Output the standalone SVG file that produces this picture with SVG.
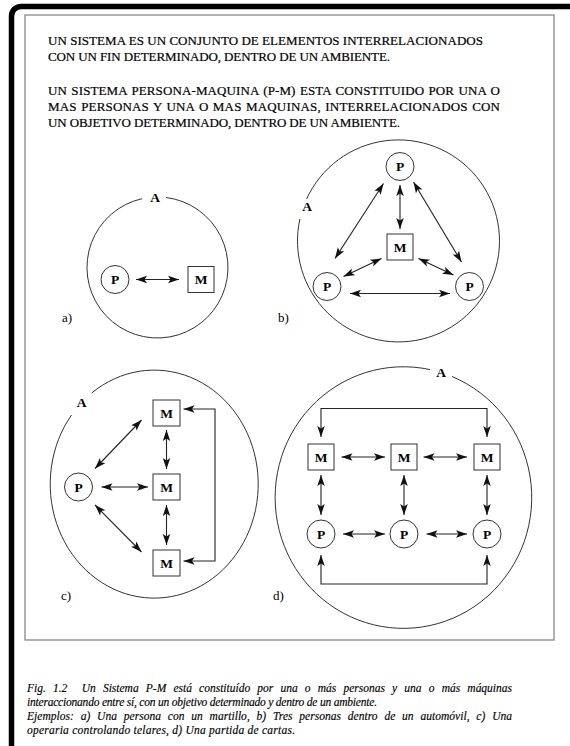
<svg xmlns="http://www.w3.org/2000/svg" width="570" height="746" viewBox="0 0 570 746">
<defs>
<style>
.hdr{font-family:"Liberation Serif","Times New Roman",serif;font-size:13px;fill:#000;stroke:#000;stroke-width:0.2}
.cap{font-family:"Liberation Serif","Times New Roman",serif;font-size:11.5px;font-style:italic;fill:#000;stroke:#000;stroke-width:0.15}
.lbl{font-family:"Liberation Serif","Times New Roman",serif;font-size:13px;fill:#000}
.nl{font-family:"Liberation Serif","Times New Roman",serif;font-size:13.5px;font-weight:bold;fill:#000;text-anchor:middle}
.env{fill:none;stroke:#333;stroke-width:1}
.pc{fill:#fff;stroke:#333;stroke-width:1}
.ms{fill:#fff;stroke:#333;stroke-width:1}
.ar{fill:none;stroke:#222;stroke-width:1.1;marker-start:url(#ah);marker-end:url(#ah)}
</style>
<marker id="ah" markerUnits="userSpaceOnUse" markerWidth="11" markerHeight="7.5" refX="11" refY="3.75" orient="auto-start-reverse" overflow="visible">
<path d="M0,0 L11,3.75 L0,7.5 L2.5,3.75 z" fill="#111"/>
</marker>
</defs>
<rect width="570" height="746" fill="#fff"/>
<path d="M11.5,746 V16 A9.5,9.5 0 0 1 21,6.5 H570" fill="none" stroke="#000" stroke-width="5.5"/>
<rect x="25" y="15" width="529" height="625" fill="none" stroke="#888" stroke-width="1.3"/>

<g id="header">
<text class="hdr" x="48" y="45" textLength="435" lengthAdjust="spacing">UN SISTEMA ES UN CONJUNTO DE ELEMENTOS INTERRELACIONADOS</text>
<text class="hdr" x="48" y="61" textLength="342" lengthAdjust="spacing">CON UN FIN DETERMINADO, DENTRO DE UN AMBIENTE.</text>
<text class="hdr" x="48" y="95" textLength="452" lengthAdjust="spacing" word-spacing="1">UN SISTEMA PERSONA-MAQUINA (P-M) ESTA CONSTITUIDO POR UNA O</text>
<text class="hdr" x="48" y="111" textLength="452" lengthAdjust="spacing" word-spacing="1">MAS PERSONAS Y UNA O MAS MAQUINAS, INTERRELACIONADOS CON</text>
<text class="hdr" x="48" y="127" textLength="352" lengthAdjust="spacing">UN OBJETIVO DETERMINADO, DENTRO DE UN AMBIENTE.</text>
</g>

<g id="environments">
<path class="env" d="M166,197.5 A70.5,70.5 0 1 1 142,198.7"/>
<text class="nl" x="155" y="201.5" font-size="12.5">A</text>
<path class="env" d="M306.6,199 A101,101 0 1 1 299.9,219"/>
<text class="nl" x="307" y="210.5" font-size="12.5">A</text>
<path class="env" d="M91.7,393 A104,114 0 1 1 71.5,415"/>
<text class="nl" x="81.7" y="406.5" font-size="12.5">A</text>
<path class="env" d="M452,376.5 A128.3,130.8 0 1 1 430,369.6"/>
<text class="nl" x="441" y="377" font-size="12.5">A</text>
</g>

<g id="labels">
<text class="lbl" x="62" y="322">a)</text>
<text class="lbl" x="278" y="322">b)</text>
<text class="lbl" x="61" y="600">c)</text>
<text class="lbl" x="273" y="600">d)</text>
</g>

<g id="connectors">
<path class="ar" d="M136,279.5 H179"/>
<path class="ar" d="M400,185 V229"/>
<path class="ar" d="M383.5,183.5 L335,258.5"/>
<path class="ar" d="M413.5,182 L461.5,262"/>
<path class="ar" d="M381.5,258.5 L343.5,276.5"/>
<path class="ar" d="M418.5,258.5 L453.5,275"/>
<path class="ar" d="M350,293.5 H450"/>
<path class="ar" d="M95,468.5 L141.5,420"/>
<path class="ar" d="M101.5,487 H148"/>
<path class="ar" d="M95,505 L141.5,552"/>
<path class="ar" d="M166.5,430 V469"/>
<path class="ar" d="M166.5,505 V545"/>
<path class="ar" d="M183.5,409 H215 V561 H183.5"/>
<path class="ar" d="M341.5,457 H385"/>
<path class="ar" d="M423.5,457 H467"/>
<path class="ar" d="M343,534 H385"/>
<path class="ar" d="M426.5,534 H467"/>
<path class="ar" d="M321,475 V515"/>
<path class="ar" d="M404,475 V515"/>
<path class="ar" d="M487,475 V515"/>
<path class="ar" d="M321,437 V408.5 H487 V437"/>
<path class="ar" d="M321,555 V584 H487 V555"/>
</g>

<g id="a-P"><circle class="pc" cx="115" cy="279.5" r="14"/><text class="nl" x="115" y="284">P</text></g>
<g id="a-M"><rect class="ms" x="188" y="266.5" width="26" height="26"/><text class="nl" x="201" y="284.3">M</text></g>

<g id="b-P1"><circle class="pc" cx="400" cy="166.5" r="14"/><text class="nl" x="400" y="171">P</text></g>
<g id="b-M"><rect class="ms" x="387" y="234" width="26" height="26"/><text class="nl" x="400" y="251.8">M</text></g>
<g id="b-P2"><circle class="pc" cx="327" cy="286.5" r="14"/><text class="nl" x="327" y="291">P</text></g>
<g id="b-P3"><circle class="pc" cx="469.5" cy="286.5" r="14"/><text class="nl" x="469.5" y="291">P</text></g>

<g id="c-P"><circle class="pc" cx="78.5" cy="487" r="14"/><text class="nl" x="78.5" y="491.5">P</text></g>
<g id="c-M1"><rect class="ms" x="153" y="400" width="27" height="26"/><text class="nl" x="166.5" y="417.8">M</text></g>
<g id="c-M2"><rect class="ms" x="153" y="474" width="27" height="26"/><text class="nl" x="166.5" y="491.8">M</text></g>
<g id="c-M3"><rect class="ms" x="153" y="550" width="27" height="26"/><text class="nl" x="166.5" y="567.8">M</text></g>

<g id="d-M1"><rect class="ms" x="308" y="444" width="26" height="26"/><text class="nl" x="321" y="461.8">M</text></g>
<g id="d-M2"><rect class="ms" x="391" y="444" width="26" height="26"/><text class="nl" x="404" y="461.8">M</text></g>
<g id="d-M3"><rect class="ms" x="474" y="444" width="26" height="26"/><text class="nl" x="487" y="461.8">M</text></g>
<g id="d-P1"><circle class="pc" cx="321" cy="534" r="14"/><text class="nl" x="321" y="538.5">P</text></g>
<g id="d-P2"><circle class="pc" cx="404" cy="534" r="14"/><text class="nl" x="404" y="538.5">P</text></g>
<g id="d-P3"><circle class="pc" cx="487" cy="534" r="14"/><text class="nl" x="487" y="538.5">P</text></g>

<g id="caption">
<text class="cap" x="27" y="691.5" textLength="485" lengthAdjust="spacing" word-spacing="4.3">Fig. 1.2&#160; Un Sistema P-M está constituído por una o más personas y una o más máquinas</text>
<text class="cap" x="27" y="705.5" textLength="350" lengthAdjust="spacing">interaccionando entre sí, con un objetivo determinado y dentro de un ambiente.</text>
<text class="cap" x="27" y="719.5" textLength="485" lengthAdjust="spacing" word-spacing="3.9">Ejemplos: a) Una persona con un martillo, b) Tres personas dentro de un automóvil, c) Una</text>
<text class="cap" x="27" y="733.5" textLength="268" lengthAdjust="spacing">operaria controlando telares, d) Una partida de cartas.</text>
</g>
</svg>
